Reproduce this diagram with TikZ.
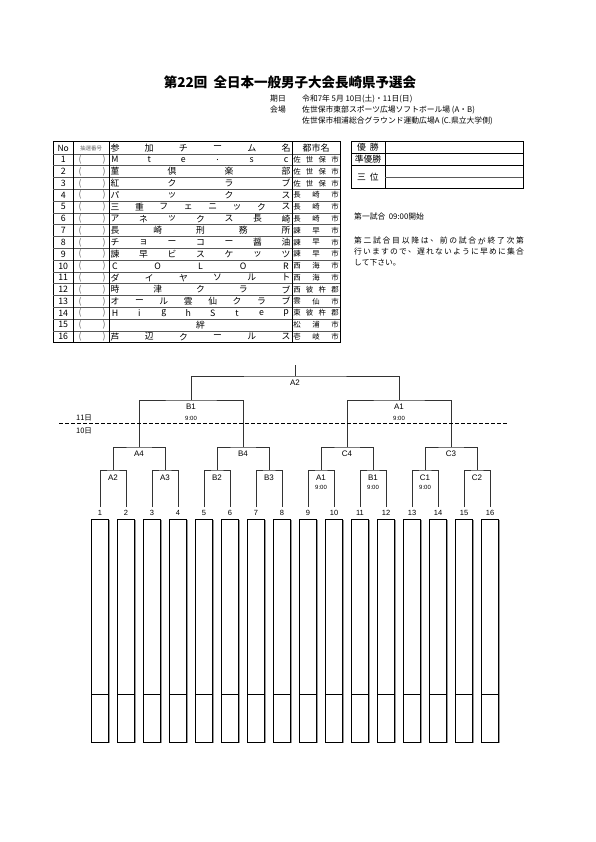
\documentclass[tikz,border=0pt]{standalone}
\usepackage{fontspec}
\setmainfont{Noto Sans CJK JP}
\newfontfamily\latfont{Liberation Sans}
\usetikzlibrary{positioning}
\newcount\nchars

\tikzset{
  cell/.style={inner sep=0pt, anchor=center},
  info/.style={font=\fontsize{7.8}{8}\selectfont, anchor=west},
  hdtxt/.style={font=\fontsize{9}{9}\selectfont},
  rowtxt/.style={font=\fontsize{8.8}{9}\selectfont},
  citytxt/.style={font=\fontsize{7.4}{7.5}\selectfont},
  notetxt/.style={font=\fontsize{7.8}{8}\selectfont},
  tabframe/.style={line width=1pt},
  tabrule/.style={line width=0.6pt},
  tabrow/.style={line width=0.5pt, black!65},
  brline/.style={line width=0.6pt, black!80},
  brlab/.style={font=\latfont\fontsize{8}{8}\selectfont, inner sep=0pt},
  brtime/.style={font=\latfont\fontsize{6}{6}\selectfont, inner sep=0pt},
  numlab/.style={font=\latfont\fontsize{7.5}{7.5}\selectfont, inner sep=0pt},
  slotbox/.style={line width=0.7pt},
}

% spread characters evenly between two x positions
\newcommand\spreadchars[6][]{%
  \global\nchars=0
  \foreach \c in #6 {\global\advance\nchars by 1}
  \ifnum\nchars=1
    \node[cell,#1] (#2-1) at ({(#4+#5)/2},#3) {#6};
  \else
    \foreach \c [count=\i] in #6 {
      \node[cell,#1] (#2-\i) at ({#4+(\i-1)*(#5-#4)/(\the\nchars-1)},#3) {\c};
    }
  \fi
}

\begin{document}
\begin{tikzpicture}[x=1pt, y=-1pt, every node/.style={inner sep=0pt}]
  \useasboundingbox[fill=white] (0,0) rectangle (595,842);

  % Title
  \node[font=\bfseries\fontsize{13.5}{14}\selectfont] (title) at (290,82)
    {第22回\ \ 全日本一般男子大会長崎県予選会};
  \node[info] (datek) at (270,99) {期日};
  \node[info] (date) at (302,99) {令和7年\ 5月\ 10日(土)・11日(日)};
  \node[info] (sitek) at (270,110) {会場};
  \node[info] (site1) at (302,110) {佐世保市東部スポーツ広場ソフトボール場 (A・B)};
  \node[info] (site2) at (302,121) {佐世保市相浦総合グラウンド運動広場A (C.県立大学側)};

  % Entry table
  \draw[tabframe] (53,142) rectangle (340,342.6);
  \foreach \k in {0,...,15}
    \draw[tabrow] (53,153.8+11.8*\k) -- (340,153.8+11.8*\k);
  \foreach \xx in {73.5,109,292}
    \draw[tabrule] (\xx,142) -- (\xx,342.6);
  \node[font=\fontsize{8.5}{9}\selectfont] (hno) at (63.2,148) {No};
  \node[font=\fontsize{5.5}{6}\selectfont, black!60] (hdraw) at (91.2,148) {抽選番号};
  \def\hdrlist{参,加,チ,ー,ム,名}
  \spreadchars[hdtxt]{hteam}{148}{115}{286}{\hdrlist}
  \node[hdtxt] (hcity) at (316,148) {都市名};
  \foreach \no/\team/\city in {
      1/{M,t,e,.,s,c}/{佐,世,保,市},
      2/{菫,倶,楽,部}/{佐,世,保,市},
      3/{紅,ク,ラ,ブ}/{佐,世,保,市},
      4/{パ,ッ,ク,ス}/{長,崎,市},
      5/{三,重,フ,ェ,ニ,ッ,ク,ス}/{長,崎,市},
      6/{ア,ネ,ッ,ク,ス,長,崎}/{長,崎,市},
      7/{長,崎,刑,務,所}/{諫,早,市},
      8/{チ,ョ,ー,コ,ー,醤,油}/{諫,早,市},
      9/{諫,早,ビ,ス,ケ,ッ,ツ}/{諫,早,市},
      10/{C,O,L,O,R}/{西,海,市},
      11/{ダ,イ,ヤ,ソ,ル,ト}/{西,海,市},
      12/{時,津,ク,ラ,ブ}/{西,彼,杵,郡},
      13/{オ,ー,ル,雲,仙,ク,ラ,ブ}/{雲,仙,市},
      14/{H,i,g,h,S,t,e,p}/{東,彼,杵,郡},
      15/{絆}/{松,浦,市},
      16/{芦,辺,ク,ー,ル,ス}/{壱,岐,市}} {
    \pgfmathsetmacro\y{153.8+(\no-0.5)*11.8}
    \node[rowtxt] (no\no) at (63.2,\y) {\no};
    \node[rowtxt, black!60] (lp\no) at (80,\y) {(};
    \node[rowtxt, black!60] (rp\no) at (104,\y) {)};
    \spreadchars[rowtxt]{t\no}{\y}{115}{286}{\team}
    \spreadchars[citytxt]{c\no}{\y}{297}{335}{\city}
  }

  % Results box
  \draw[tabframe] (351,142) rectangle (523,189);
  \draw[tabrule] (385,142) -- (385,189);
  \draw[tabrule] (351,153) -- (523,153);
  \draw[tabrule] (351,165) -- (523,165);
  \draw[tabrow] (385,177) -- (523,177);
  \node[rowtxt] (win) at (368,147.5) {優\ \ 勝};
  \node[rowtxt] (second) at (368,159) {準優勝};
  \node[rowtxt] (third) at (368,177) {三\ \ 位};

  % Notes
  \node[notetxt, anchor=west] (start) at (354,217) {第一試合\ \ 09:00開始};
  \def\noteA{第,二,試,合,目,以,降,は,、,前,の,試,合,が,終,了,次,第}
  \def\noteB{行,い,ま,す,の,で,、,遅,れ,な,い,よ,う,に,早,め,に,集,合}
  \spreadchars[notetxt]{na}{241}{358}{520}{\noteA}
  \spreadchars[notetxt]{nb}{252}{358}{520}{\noteB}
  \node[notetxt, anchor=west] (nc) at (354,263) {して下さい。};

  % Slots and boxes
  \foreach \i in {1,...,16} {
    \pgfmathsetmacro\xs{100+26*(\i-1)}
    \coordinate (s\i) at (\xs,507);
    \node[numlab] (n\i) at (\xs,513) {\i};
    \draw[slotbox] (\xs-8.3,519) rectangle (\xs+8.3,742);
    \draw[slotbox] (\xs-8.3,694) -- (\xs+8.3,694);
    \draw[black!40, line width=1pt] (\xs+9.3,520) -- (\xs+9.3,742.5);
  }

  % Round 1
  \foreach \j/\lab in {1/A2,2/A3,3/B2,4/B3,5/A1,6/B1,7/C1,8/C2} {
    \pgfmathtruncatemacro\a{2*\j-1}
    \pgfmathtruncatemacro\b{2*\j}
    \coordinate (m\j) at (61+52*\j,470);
    \draw[brline] (s\a) |- (m\j) -| (s\b);
    \node[brlab, below=5pt of m\j] (ml\j) {\lab};
  }
  \foreach \j in {5,6,7}
    \node[brtime, below=4.5pt of ml\j] (mt\j) {9:00};

  % Round 2
  \foreach \k/\lab in {1/A4,2/B4,3/C4,4/C3} {
    \pgfmathtruncatemacro\a{2*\k-1}
    \pgfmathtruncatemacro\b{2*\k}
    \coordinate (q\k) at (35+104*\k,447);
    \draw[brline] (m\a) |- (q\k) -| (m\b);
    \node[brlab, below=4pt of q\k] (ql\k) {\lab};
  }

  % Semi-finals
  \foreach \h/\lab in {1/B1,2/A1} {
    \pgfmathtruncatemacro\a{2*\h-1}
    \pgfmathtruncatemacro\b{2*\h}
    \coordinate (h\h) at (-17+208*\h,400);
    \draw[brline] (q\a) |- (h\h) -| (q\b);
    \node[brlab, below=4pt of h\h] (hl\h) {\lab};
    \node[brtime, below=6pt of hl\h] (ht\h) {9:00};
  }

  % Final
  \coordinate (fin) at (295,376);
  \coordinate (top) at (295,365);
  \draw[brline] (h1) |- (fin) -| (h2);
  \draw[brline] (fin) -- (top);
  \node[brlab, below=4pt of fin] (finl) {A2};

  % Day split
  \coordinate (dl) at (59,423);
  \coordinate (dr) at (508,423);
  \draw[line width=0.6pt, dash pattern=on 4pt off 2pt] (dl) -- (dr);
  \node[font=\fontsize{7.5}{8}\selectfont] (d11) at (84,417.5) {11日};
  \node[font=\fontsize{7.5}{8}\selectfont] (d10) at (84,430.5) {10日};
\end{tikzpicture}
\end{document}
